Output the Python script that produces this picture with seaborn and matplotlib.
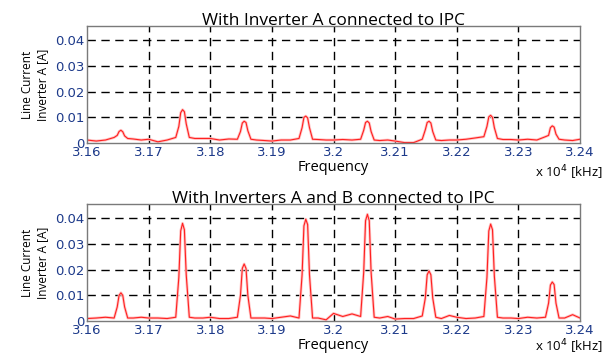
import pandas as pd
import matplotlib
matplotlib.use("Agg")
import matplotlib.pyplot as plt
import seaborn as sns

# frequency axis in units of 10^4 kHz (12 samples per 0.01 cell, peak near x.xx55)
FREQ = [
    3.1600, 3.1615, 3.1630, 3.1644, 3.1649, 3.1652, 3.1655, 3.1658, 3.1661, 3.1666, 3.1675, 3.1688,
    3.1700, 3.1715, 3.1730, 3.1744, 3.1749, 3.1752, 3.1755, 3.1758, 3.1761, 3.1766, 3.1775, 3.1788,
    3.1800, 3.1815, 3.1830, 3.1844, 3.1849, 3.1852, 3.1855, 3.1858, 3.1861, 3.1866, 3.1875, 3.1888,
    3.1900, 3.1915, 3.1930, 3.1944, 3.1949, 3.1952, 3.1955, 3.1958, 3.1961, 3.1966, 3.1975, 3.1988,
    3.2000, 3.2015, 3.2030, 3.2044, 3.2049, 3.2052, 3.2055, 3.2058, 3.2061, 3.2066, 3.2075, 3.2088,
    3.2100, 3.2115, 3.2130, 3.2144, 3.2149, 3.2152, 3.2155, 3.2158, 3.2161, 3.2166, 3.2175, 3.2188,
    3.2200, 3.2215, 3.2230, 3.2244, 3.2249, 3.2252, 3.2255, 3.2258, 3.2261, 3.2266, 3.2275, 3.2288,
    3.2300, 3.2315, 3.2330, 3.2344, 3.2349, 3.2352, 3.2355, 3.2358, 3.2361, 3.2366, 3.2375, 3.2388,
    3.2400,
]

# line current of inverter A [A], only inverter A connected
CURRENT_A = [
    0.0012, 0.0008, 0.0012, 0.0022, 0.0030, 0.0045, 0.0050, 0.0044, 0.0028, 0.0018, 0.0016, 0.0012,
    0.0015, 0.0005, 0.0012, 0.0022, 0.0065, 0.0118, 0.0130, 0.0122, 0.0075, 0.0022, 0.0018, 0.0018,
    0.0018, 0.0012, 0.0016, 0.0015, 0.0045, 0.0078, 0.0085, 0.0080, 0.0048, 0.0015, 0.0012, 0.0010,
    0.0008, 0.0012, 0.0012, 0.0018, 0.0060, 0.0100, 0.0105, 0.0098, 0.0060, 0.0015, 0.0014, 0.0012,
    0.0012, 0.0014, 0.0012, 0.0015, 0.0050, 0.0080, 0.0085, 0.0078, 0.0045, 0.0012, 0.0010, 0.0012,
    0.0008, 0.0002, 0.0002, 0.0015, 0.0052, 0.0080, 0.0085, 0.0078, 0.0045, 0.0012, 0.0010, 0.0012,
    0.0012, 0.0015, 0.0020, 0.0025, 0.0065, 0.0102, 0.0108, 0.0100, 0.0060, 0.0018, 0.0014, 0.0014,
    0.0012, 0.0015, 0.0012, 0.0025, 0.0030, 0.0060, 0.0067, 0.0062, 0.0035, 0.0015, 0.0012, 0.0010,
    0.0015,
]

# line current of inverter A [A], inverters A and B connected
CURRENT_AB = [
    0.0010, 0.0012, 0.0015, 0.0012, 0.0055, 0.0100, 0.0110, 0.0100, 0.0055, 0.0012, 0.0012, 0.0015,
    0.0012, 0.0012, 0.0010, 0.0015, 0.0170, 0.0350, 0.0380, 0.0355, 0.0180, 0.0015, 0.0012, 0.0012,
    0.0015, 0.0010, 0.0010, 0.0015, 0.0100, 0.0205, 0.0222, 0.0205, 0.0100, 0.0012, 0.0012, 0.0012,
    0.0010, 0.0015, 0.0020, 0.0012, 0.0180, 0.0370, 0.0396, 0.0375, 0.0180, 0.0012, 0.0012, 0.0005,
    0.0030, 0.0018, 0.0028, 0.0018, 0.0190, 0.0390, 0.0415, 0.0390, 0.0190, 0.0015, 0.0012, 0.0018,
    0.0008, 0.0010, 0.0010, 0.0020, 0.0090, 0.0180, 0.0195, 0.0180, 0.0090, 0.0015, 0.0010, 0.0022,
    0.0015, 0.0010, 0.0012, 0.0018, 0.0170, 0.0350, 0.0377, 0.0355, 0.0175, 0.0015, 0.0012, 0.0012,
    0.0010, 0.0015, 0.0012, 0.0015, 0.0070, 0.0140, 0.0152, 0.0142, 0.0070, 0.0012, 0.0012, 0.0025,
    0.0012,
]

X_TICKS = [3.16, 3.17, 3.18, 3.19, 3.20, 3.21, 3.22, 3.23, 3.24]
X_LABELS = ["3.16", "3.17", "3.18", "3.19", "3.2", "3.21", "3.22", "3.23", "3.24"]
Y_TICKS = [0, 0.01, 0.02, 0.03, 0.04]
Y_LABELS = ["0", "0.01", "0.02", "0.03", "0.04"]

TITLES = ["With Inverter A connected to IPC", "With Inverters A and B connected to IPC"]

sns.set_style("white")
plt.rcParams["font.family"] = ["Open Sans", "DejaVu Sans"]
plt.rcParams["text.color"] = "black"
plt.rcParams["axes.labelcolor"] = "black"

df = pd.DataFrame({"freq": FREQ, "A": CURRENT_A, "AB": CURRENT_AB})

fig = plt.figure(figsize=(6.06, 3.56), dpi=100)
# [left, bottom, width, height] in figure fractions
positions = [[0.1436, 0.598, 0.8135, 0.329], [0.1436, 0.098, 0.8135, 0.329]]
unit_y = [-0.25, -0.22]

for pos, col, title, uy in zip(positions, ["A", "AB"], TITLES, unit_y):
    ax = fig.add_axes(pos)
    # soft halo under the red trace
    sns.lineplot(data=df, x="freq", y=col, ax=ax, color="#ffc4c4", linewidth=2.0)
    sns.lineplot(data=df, x="freq", y=col, ax=ax, color="#ff2020", linewidth=0.8)

    ax.set_xlim(3.16, 3.24)
    ax.set_ylim(0, 0.0455)
    ax.set_xticks(X_TICKS)
    ax.set_xticklabels(X_LABELS)
    ax.set_yticks(Y_TICKS)
    ax.set_yticklabels(Y_LABELS)
    ax.tick_params(labelsize=9.5, labelcolor="#1d3a8a", length=2, direction="in", pad=2)
    for lab in ax.get_xticklabels() + ax.get_yticklabels():
        lab.set_family("DejaVu Sans")

    for x in X_TICKS[1:-1]:
        ax.axvline(x, color="black", linewidth=1.0, linestyle=(0, (6, 4)), zorder=0)
    for y in Y_TICKS[1:]:
        ax.axhline(y, color="black", linewidth=1.0, linestyle=(0, (6, 4)), zorder=0)

    for spine in ax.spines.values():
        spine.set_color("#7a7a7a")
        spine.set_linewidth(1.0)

    ax.set_title(title, fontsize=12.5, pad=1, color="black")
    ax.set_xlabel("Frequency", fontsize=10.5, labelpad=1)
    ax.set_ylabel("Line Current\nInverter A [A]", fontsize=8.5, labelpad=4)
    ax.text(1.047, uy, r"x 10$^4$ [kHz]", transform=ax.transAxes,
            ha="right", va="center", fontsize=9.5)

fig.savefig("out.png", dpi=100)
